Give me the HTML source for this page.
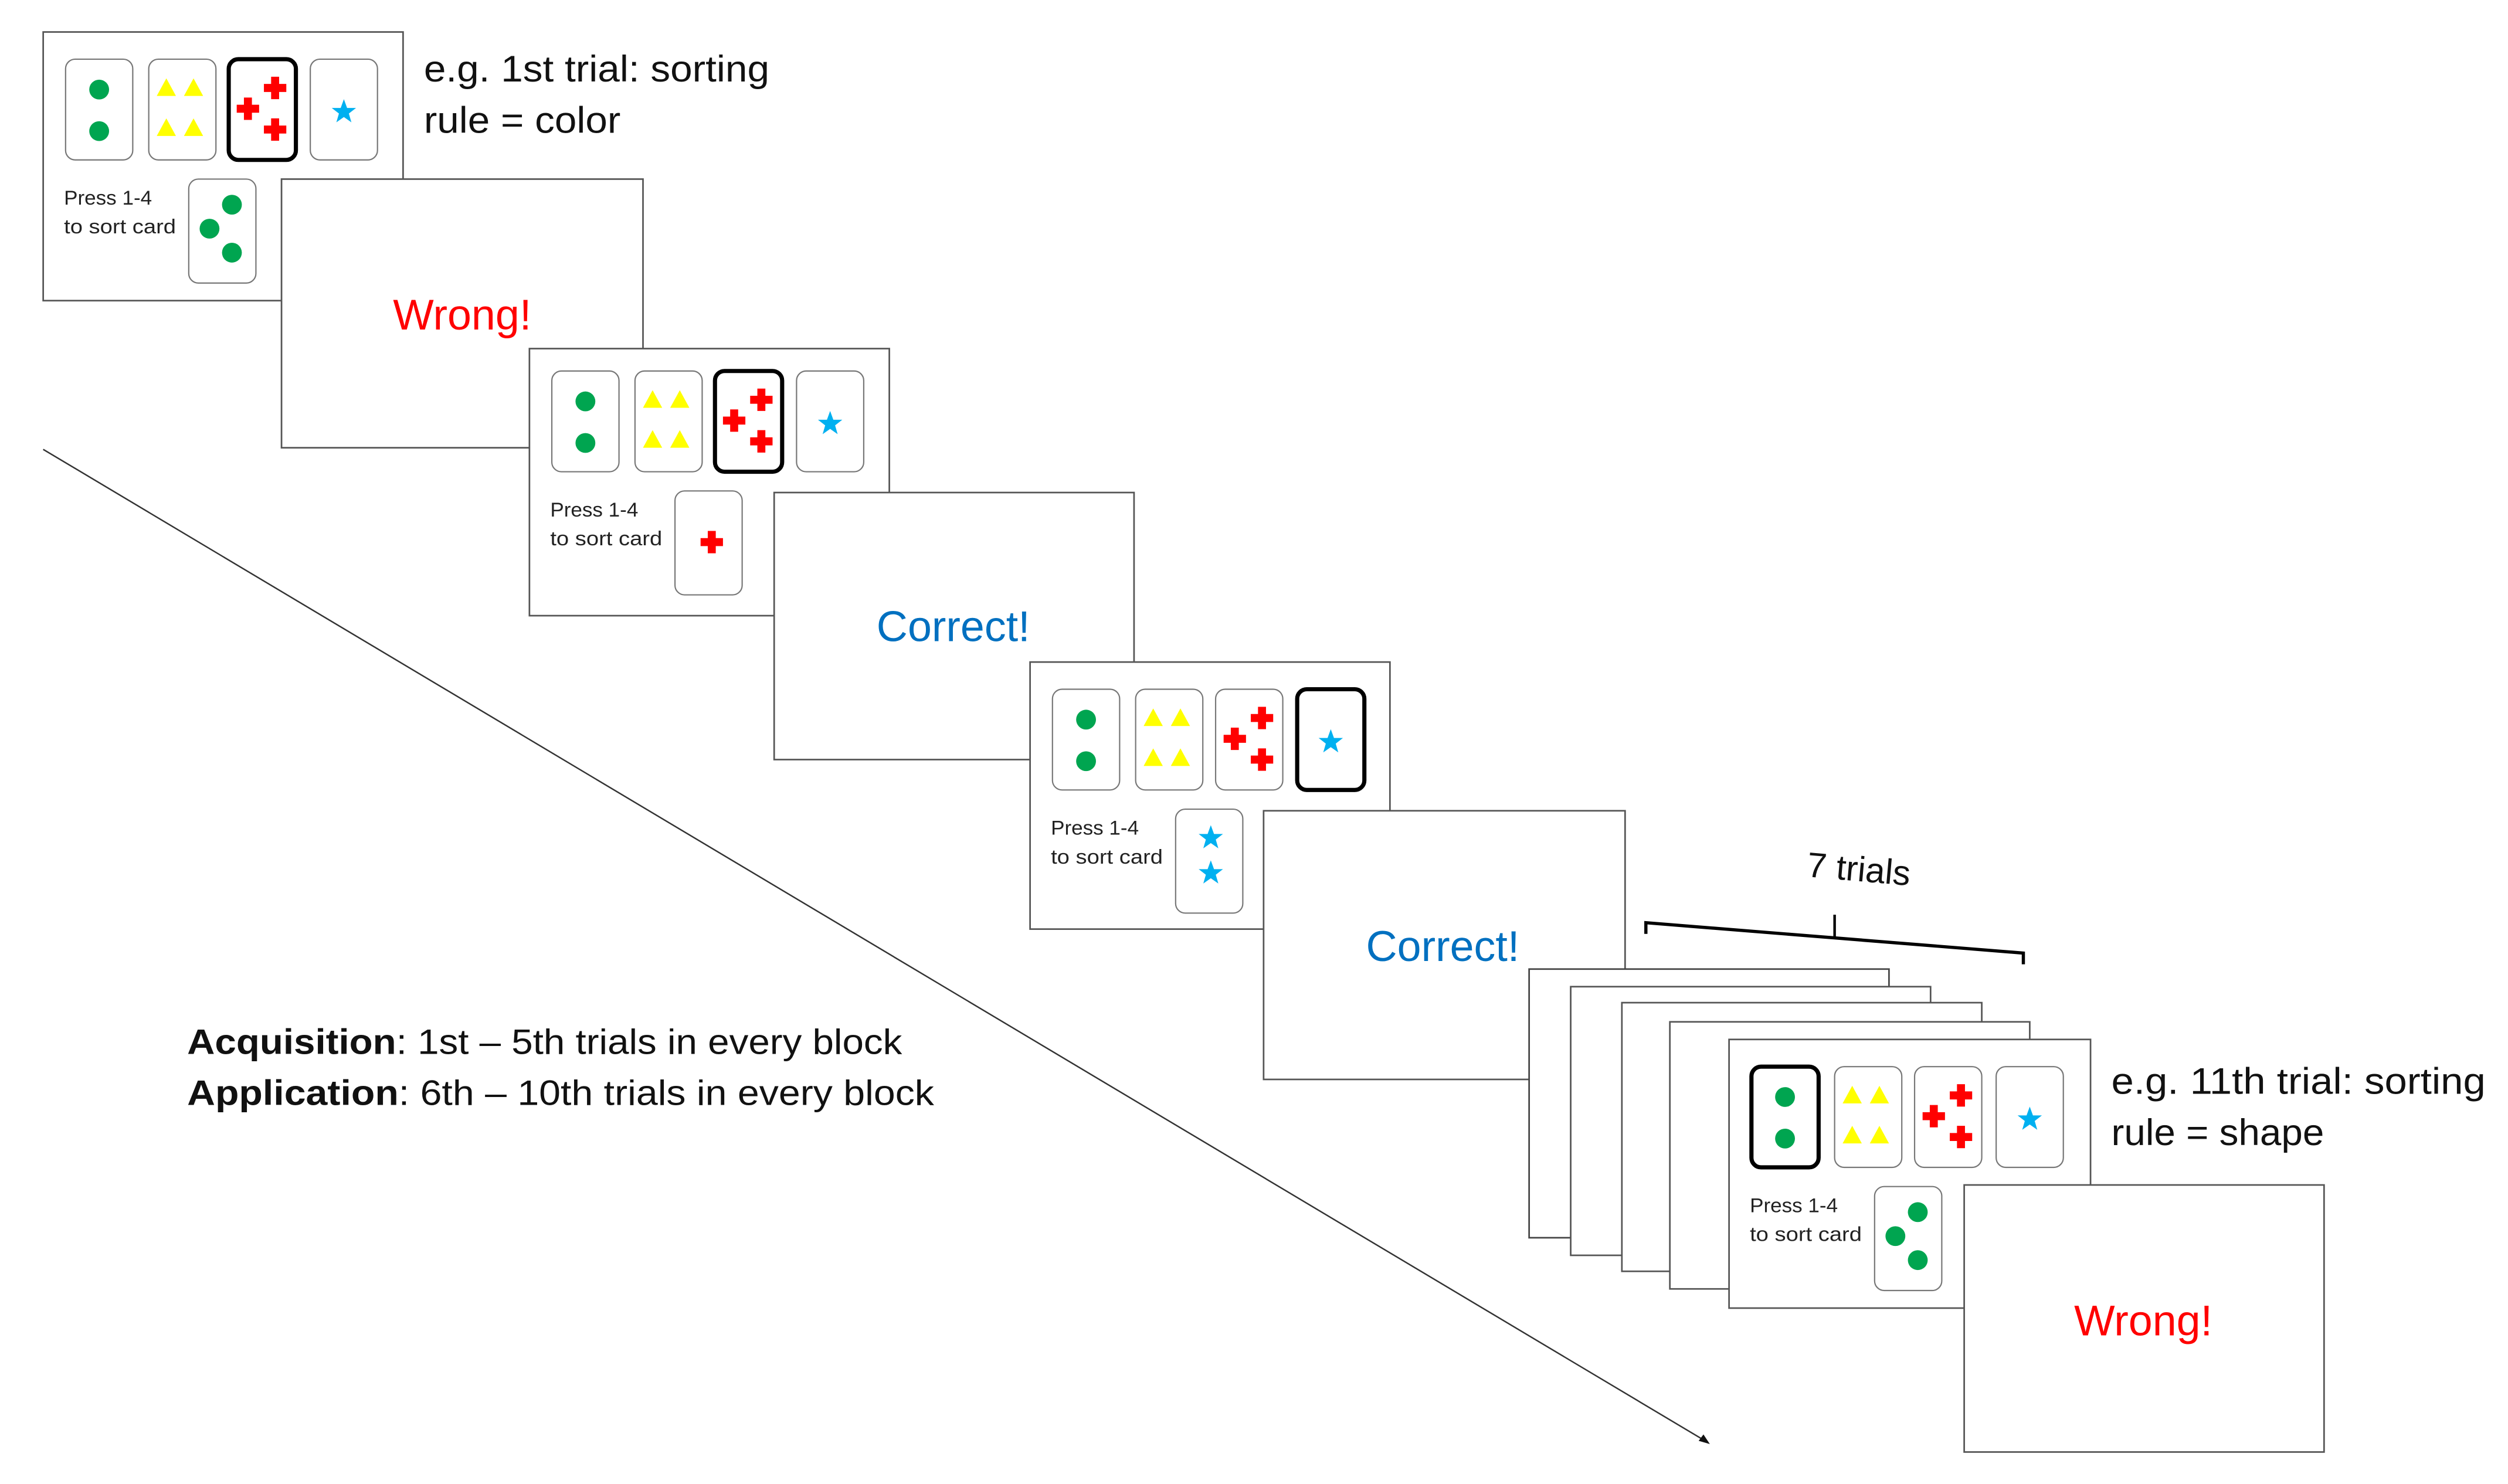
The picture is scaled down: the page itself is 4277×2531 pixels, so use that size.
<!DOCTYPE html>
<html><head><meta charset="utf-8"><style>
html,body{margin:0;padding:0;background:#fff;}
svg{display:block;}
text{font-family:"Liberation Sans",sans-serif;}
</style></head><body>
<svg width="4277" height="2531" viewBox="0 0 1568 928" preserveAspectRatio="none" xmlns="http://www.w3.org/2000/svg">
<defs>
<g id="dot"><circle r="6.2" fill="#00a550"/></g>
<g id="tri"><polygon points="0,-6 6,5 -6,5" fill="#ffff00"/></g>
<g id="cross"><path d="M-2.5,-7h5v4.5h4.5v5h-4.5v4.5h-5v-4.5h-4.5v-5h4.5z" fill="#ff0000"/></g>
<g id="star"><polygon points="0,-8 2,-2.5 7.6,-2.5 3.1,1 4.7,6.5 0,3.2 -4.7,6.5 -3.1,1 -7.6,-2.5 -2,-2.5" fill="#00b0f0"/></g>
<g id="row">
  <rect x="14" y="17" width="42" height="63" rx="6" fill="#fff" stroke="#777" stroke-width="0.8"/>
  <rect x="66" y="17" width="42" height="63" rx="6" fill="#fff" stroke="#777" stroke-width="0.8"/>
  <rect x="116" y="17" width="42" height="63" rx="6" fill="#fff" stroke="#777" stroke-width="0.8"/>
  <rect x="167" y="17" width="42" height="63" rx="6" fill="#fff" stroke="#777" stroke-width="0.8"/>
  <use href="#dot" x="35" y="36"/><use href="#dot" x="35" y="62"/>
  <use href="#tri" x="77" y="35"/><use href="#tri" x="94" y="35"/><use href="#tri" x="77" y="60"/><use href="#tri" x="94" y="60"/>
  <use href="#cross" x="145" y="35"/><use href="#cross" x="128" y="48"/><use href="#cross" x="145" y="61"/>
  <use href="#star" x="188" y="50"/>
  <text x="13" y="108" font-size="12.5" fill="#222" textLength="55" lengthAdjust="spacingAndGlyphs">Press 1-4</text>
  <text x="13" y="126" font-size="12.5" fill="#222" textLength="70" lengthAdjust="spacingAndGlyphs">to sort card</text>
  <rect x="91" y="92" width="42" height="65" rx="6" fill="#fff" stroke="#777" stroke-width="0.8"/>
</g>
</defs>
<rect width="1568" height="928" fill="#fff"/>

<line x1="27" y1="281" x2="1066" y2="901" stroke="#333" stroke-width="0.9"/>
<polygon points="1069,903 1062,901 1065,897" fill="#111"/>

<g transform="translate(27,20)">
  <rect x="0" y="0" width="225" height="168" fill="#fff" stroke="#555" stroke-width="1"/>
  <use href="#row"/>
  <rect x="116" y="17" width="42" height="63" rx="6" fill="none" stroke="#000" stroke-width="2.6"/>
  <use href="#dot" x="118" y="108"/><use href="#dot" x="104" y="123"/><use href="#dot" x="118" y="138"/>
</g>
<text x="265" y="51" font-size="23" fill="#111" textLength="216" lengthAdjust="spacingAndGlyphs">e.g. 1st trial: sorting</text>
<text x="265" y="83" font-size="23" fill="#111" textLength="123" lengthAdjust="spacingAndGlyphs">rule = color</text>

<rect x="176" y="112" width="226" height="168" fill="#fff" stroke="#555" stroke-width="1"/>
<text x="289" y="206" font-size="27" fill="#ff0000" text-anchor="middle">Wrong!</text>

<rect x="331" y="218" width="225" height="167" fill="#fff" stroke="#555" stroke-width="1"/>
<g transform="translate(331,215)">
  <use href="#row"/>
  <rect x="116" y="17" width="42" height="63" rx="6" fill="none" stroke="#000" stroke-width="2.6"/>
  <use href="#cross" x="114" y="124"/>
</g>

<rect x="484" y="308" width="225" height="167" fill="#fff" stroke="#555" stroke-width="1"/>
<text x="596" y="401" font-size="27" fill="#0070c0" text-anchor="middle">Correct!</text>

<g transform="translate(644,414)">
  <rect x="0" y="0" width="225" height="167" fill="#fff" stroke="#555" stroke-width="1"/>
  <use href="#row"/>
  <rect x="167" y="17" width="42" height="63" rx="6" fill="none" stroke="#000" stroke-width="2.6"/>
  <use href="#star" x="113" y="110"/><use href="#star" x="113" y="132"/>
</g>

<rect x="790" y="507" width="226" height="168" fill="#fff" stroke="#555" stroke-width="1"/>
<text x="902" y="601" font-size="27" fill="#0070c0" text-anchor="middle">Correct!</text>

<path d="M1029,584 L1029,577 L1265,596 L1265,603" fill="none" stroke="#000" stroke-width="2"/>
<line x1="1147" y1="572" x2="1147" y2="586" stroke="#000" stroke-width="1.6"/>
<text x="1162" y="551" font-size="22" fill="#111" text-anchor="middle" transform="rotate(5 1162 545)">7 trials</text>

<rect x="956" y="606" width="225" height="168" fill="#fff" stroke="#444" stroke-width="1"/>
<rect x="982" y="617" width="225" height="168" fill="#fff" stroke="#555" stroke-width="1"/>
<rect x="1014" y="627" width="225" height="168" fill="#fff" stroke="#555" stroke-width="1"/>
<rect x="1044" y="639" width="225" height="167" fill="#fff" stroke="#555" stroke-width="1"/>

<g transform="translate(1081,650)">
  <rect x="0" y="0" width="226" height="168" fill="#fff" stroke="#555" stroke-width="1"/>
  <use href="#row"/>
  <rect x="14" y="17" width="42" height="63" rx="6" fill="none" stroke="#000" stroke-width="2.6"/>
  <use href="#dot" x="118" y="108"/><use href="#dot" x="104" y="123"/><use href="#dot" x="118" y="138"/>
</g>
<text x="1320" y="684" font-size="23" fill="#111" textLength="234" lengthAdjust="spacingAndGlyphs">e.g. 11th trial: sorting</text>
<text x="1320" y="716" font-size="23" fill="#111" textLength="133" lengthAdjust="spacingAndGlyphs">rule = shape</text>

<rect x="1228" y="741" width="225" height="167" fill="#fff" stroke="#555" stroke-width="1"/>
<text x="1340" y="835" font-size="27" fill="#ff0000" text-anchor="middle">Wrong!</text>

<text x="117" y="659" font-size="22" fill="#111" textLength="447" lengthAdjust="spacingAndGlyphs"><tspan font-weight="bold">Acquisition</tspan>: 1st – 5th trials in every block</text>
<text x="117" y="691" font-size="22" fill="#111" textLength="467" lengthAdjust="spacingAndGlyphs"><tspan font-weight="bold">Application</tspan>: 6th – 10th trials in every block</text>
</svg>
</body></html>
